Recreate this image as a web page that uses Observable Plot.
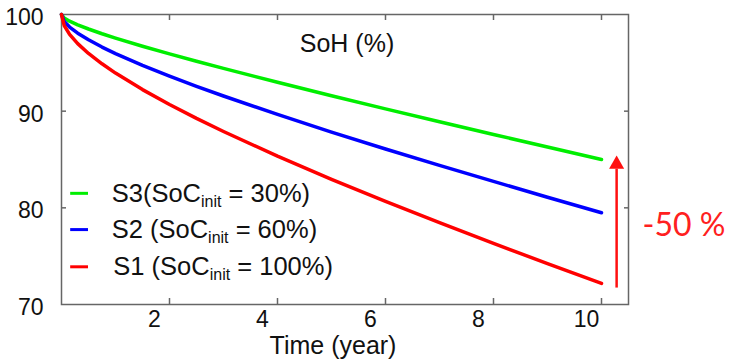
<!DOCTYPE html>
<html><head><meta charset="utf-8">
<script src="https://cdn.jsdelivr.net/npm/d3@7"></script>
<script src="https://cdn.jsdelivr.net/npm/@observablehq/plot@0.6"></script>
<style>body{margin:0;background:#fff;} #chart{width:731px;height:361px;}</style>
</head><body><div id="chart"></div>
<script>
const years   = [0, 0.05, 0.15, 0.3, 0.5, 0.75, 1, 1.5, 2, 2.5, 3, 4, 5, 6, 7, 8, 9, 10];
const soh_S3  = [100, 99.64, 99.31, 98.93, 98.50, 98.01, 97.56, 96.72, 95.93, 95.16, 94.43, 92.99, 91.60, 90.24, 88.91, 87.59, 86.29, 85.0];
const soh_S2  = [100, 99.29, 98.70, 98.07, 97.38, 96.63, 95.96, 94.74, 93.62, 92.57, 91.57, 89.66, 87.84, 86.09, 84.39, 82.73, 81.10, 79.49];
const soh_S1  = [100, 98.86, 97.95, 96.99, 95.97, 94.90, 93.94, 92.23, 90.69, 89.25, 87.90, 85.35, 82.95, 80.66, 78.46, 76.32, 74.23, 72.19];
const seriesNames  = ["S3", "S2", "S1"];
const seriesColors = ["#00ee00", "#0000ff", "#ff0000"];
const legendLabels = ["S3(SoC|init| = 30%)", "S2 (SoC|init| = 60%)", "S1 (SoC|init| = 100%)"];
const legendY      = [81.5, 77.75, 73.9];
const legendTextX  = [0.93, 0.93, 0.96];
const swatchX      = [0.17, 0.5];
const xTicks = [2, 4, 6, 8, 10];
const yTicks = [70, 80, 90, 100];
const titleText = "SoH (%)";
const xLabel = "Time (year)";
const arrowTime = 10.28, arrowFrom = 71.7, arrowTo = 84.0, arrowHead = 84.5;
const annotation = "-50 %";

const seriesValues = [soh_S3, soh_S2, soh_S1];
const rows = [];
seriesNames.forEach((s, i) => years.forEach((t, j) => rows.push({series: s, year: t, soh: seriesValues[i][j]})));
const legendRows = seriesNames.map((s, i) => ({series: s, y: legendY[i], x1: swatchX[0], x2: swatchX[1], tx: legendTextX[i], label: legendLabels[i]}));

const plot = Plot.plot({
  width: 731, height: 361,
  marginLeft: 61, marginRight: 103, marginTop: 14, marginBottom: 57,
  x: {domain: [0, 10.5]},
  y: {domain: [70, 100]},
  color: {domain: seriesNames, range: seriesColors},
  style: {fontFamily: "'Liberation Sans', Arial, sans-serif", color: "#111", background: "#fff"},
  marks: [
    Plot.frame({stroke: "#666", strokeWidth: 1.5}),
    Plot.axisX(xTicks, {anchor: "bottom", tickSize: -6, fill: "none", stroke: "#666", strokeWidth: 1.5, label: null}),
    Plot.axisX(xTicks, {anchor: "top", tickSize: -5, fill: "none", stroke: "#666", strokeWidth: 1.5, label: null}),
    Plot.axisX(xTicks, {anchor: "bottom", stroke: "none", tickSize: 0, tickPadding: 6, fontSize: 23, dx: -15, label: null, fill: "#111"}),
    Plot.axisY([80, 90], {anchor: "left", tickSize: -5, fill: "none", stroke: "#666", strokeWidth: 1.5, label: null}),
    Plot.axisY([80, 90], {anchor: "right", tickSize: -5, fill: "none", stroke: "#666", strokeWidth: 1.5, label: null}),
    Plot.axisY(yTicks, {anchor: "left", stroke: "none", tickSize: 0, tickPadding: 18, fontSize: 23, dy: 3, label: null, fill: "#111"}),
    Plot.line(rows, {x: "year", y: "soh", z: "series", stroke: "series", strokeWidth: 3.5}),
    Plot.ruleY(legendRows, {y: "y", x1: "x1", x2: "x2", stroke: "series", strokeWidth: 3}),
    Plot.text(legendRows, {x: "tx", y: "y", text: "label", textAnchor: "start", fontSize: 25.5, fill: "#111"}),
    Plot.text([titleText], {frameAnchor: "top", dy: 20, dx: 2, fontSize: 25, fill: "#111"}),
    Plot.text([xLabel], {frameAnchor: "bottom", dy: 49, dx: -12, fontSize: 25, fill: "#111"}),
    Plot.ruleX([arrowTime], {y1: arrowFrom, y2: arrowTo, stroke: "#ff1010", strokeWidth: 2.5}),
    Plot.dot([arrowTime], {x: d => d, y: arrowHead, symbol: "triangle", r: 5.6, fill: "#ff1010", stroke: null}),
    Plot.text([annotation], {frameAnchor: "right", dx: 14, dy: 66, textAnchor: "start", fontSize: 32, fill: "#ff2020", fontFamily: "Lato, 'Open Sans', sans-serif"})
  ]
});

// subscripts in legend labels
d3.select(plot).selectAll("text").each(function() {
  const t = this.textContent;
  if (t.includes("|")) {
    const [a, b, c] = t.split("|");
    const el = d3.select(this);
    el.text(null);
    el.append("tspan").text(a);
    el.append("tspan").attr("font-size", 16).attr("dy", 5).text(b);
    el.append("tspan").attr("dy", -5).text(c);
  }
});
document.getElementById("chart").appendChild(plot);
</script>
</body></html>
